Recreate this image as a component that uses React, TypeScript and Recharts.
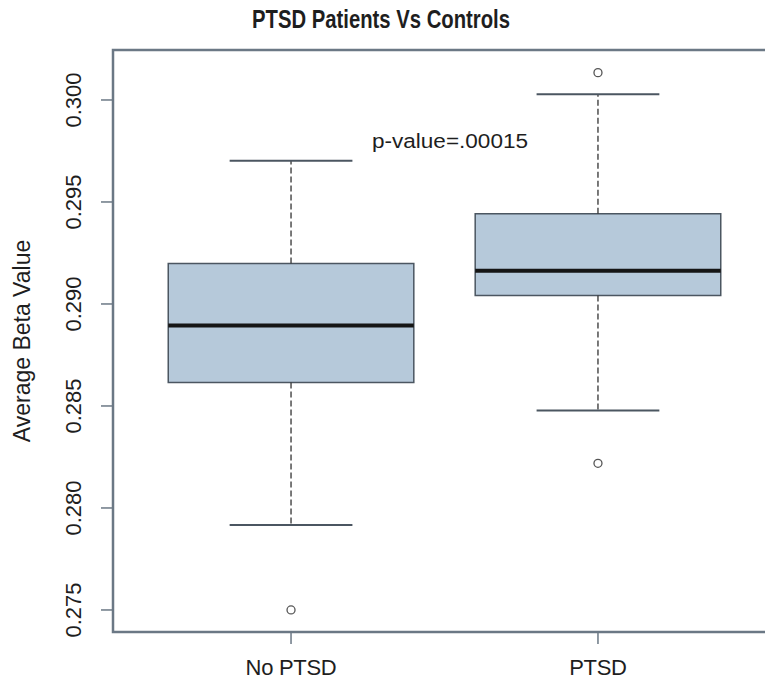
import React from 'react';
import {
  ComposedChart, Scatter, XAxis, YAxis, ReferenceArea, ReferenceLine,
} from 'recharts';

const CATEGORIES = ['No PTSD', 'PTSD'];
const POSITIONS = [1, 2];
const LOWER_WHISKER = [0.27916, 0.28478];
const Q1 = [0.28615, 0.29041];
const MEDIAN = [0.28894, 0.29163];
const Q3 = [0.29198, 0.29442];
const UPPER_WHISKER = [0.29702, 0.30028];
const OUTLIER_GROUP = [1, 2, 2];
const OUTLIER_VALUE = [0.2750, 0.30134, 0.28219];
const Y_TICKS = [0.275, 0.28, 0.285, 0.29, 0.295, 0.3];

const Y_DOMAIN: [number, number] = [0.27392, 0.30245];
const X_DOMAIN: [number, number] = [0.42, 2.58];
const BOX_HALF = 0.4;
const CAP_HALF = 0.2;

const FRAME = '#6b7885';
const BOX_FILL = '#b6c9da';
const BOX_STROKE = '#4b5661';
const TEXT = '#1e1e1e';
const FONT = '"Liberation Sans", Arial, sans-serif';

const outliers = OUTLIER_GROUP.map((g, i) => ({ x: g, y: OUTLIER_VALUE[i] }));

function YTick({ x, y, payload }: any) {
  const tx = x - 18;
  return (
    <text x={tx} y={y} transform={`rotate(-90 ${tx} ${y})`} textAnchor="middle"
      fontSize={22} fontFamily={FONT} fill={TEXT}>
      {Number(payload.value).toFixed(3)}
    </text>
  );
}

function XTick({ x, y, payload }: any) {
  const idx = POSITIONS.indexOf(payload.value);
  return (
    <text x={x} y={y + 29} textAnchor="middle" fontSize={22} fontFamily={FONT} fill={TEXT}
      letterSpacing={-0.3}>
      {CATEGORIES[idx]}
    </text>
  );
}

function AxisTitle({ viewBox }: any) {
  const cx = 30;
  const cy = viewBox.y + viewBox.height / 2;
  return (
    <text x={cx} y={cy} transform={`rotate(-90 ${cx} ${cy})`} textAnchor="middle"
      fontSize={23} fontFamily={FONT} fill={TEXT}>
      Average Beta Value
    </text>
  );
}

export default function App() {
  return (
    <div style={{ position: 'absolute', left: 0, top: 0, width: 765, height: 684, overflow: 'hidden', background: '#fff' }}>
      <ComposedChart width={780} height={684} margin={{ top: 50, right: 4, left: 0, bottom: 0 }}>
        <XAxis type="number" dataKey="x" domain={X_DOMAIN} ticks={POSITIONS} allowDataOverflow
          axisLine={false} tickLine={{ stroke: FRAME, strokeWidth: 1.5 }} tickSize={12}
          height={52} tick={<XTick />} />
        <YAxis type="number" dataKey="y" domain={Y_DOMAIN} ticks={Y_TICKS} allowDataOverflow
          axisLine={false} tickLine={{ stroke: FRAME, strokeWidth: 1.5 }} tickSize={12}
          width={113} tick={<YTick />} label={<AxisTitle />} />

        {POSITIONS.map((p, i) => (
          <ReferenceArea key={`box${i}`} x1={p - BOX_HALF} x2={p + BOX_HALF} y1={Q1[i]} y2={Q3[i]}
            fill={BOX_FILL} fillOpacity={1} stroke={BOX_STROKE} strokeWidth={1.5} ifOverflow="visible" />
        ))}
        {POSITIONS.map((p, i) => (
          <ReferenceLine key={`uw${i}`} segment={[{ x: p, y: Q3[i] }, { x: p, y: UPPER_WHISKER[i] }]}
            stroke="#333" strokeWidth={1.3} strokeDasharray="6 3" ifOverflow="visible" />
        ))}
        {POSITIONS.map((p, i) => (
          <ReferenceLine key={`lw${i}`} segment={[{ x: p, y: Q1[i] }, { x: p, y: LOWER_WHISKER[i] }]}
            stroke="#333" strokeWidth={1.3} strokeDasharray="6 3" ifOverflow="visible" />
        ))}
        {POSITIONS.map((p, i) => (
          <ReferenceLine key={`uc${i}`} segment={[{ x: p - CAP_HALF, y: UPPER_WHISKER[i] }, { x: p + CAP_HALF, y: UPPER_WHISKER[i] }]}
            stroke={BOX_STROKE} strokeWidth={2} ifOverflow="visible" />
        ))}
        {POSITIONS.map((p, i) => (
          <ReferenceLine key={`lc${i}`} segment={[{ x: p - CAP_HALF, y: LOWER_WHISKER[i] }, { x: p + CAP_HALF, y: LOWER_WHISKER[i] }]}
            stroke={BOX_STROKE} strokeWidth={2} ifOverflow="visible" />
        ))}
        {POSITIONS.map((p, i) => (
          <ReferenceLine key={`md${i}`} segment={[{ x: p - BOX_HALF, y: MEDIAN[i] }, { x: p + BOX_HALF, y: MEDIAN[i] }]}
            stroke="#151515" strokeWidth={4} ifOverflow="visible" />
        ))}

        <Scatter data={outliers} isAnimationActive={false}
          shape={(props: any) => <circle cx={props.cx} cy={props.cy} r={4} fill="none" stroke="#555" strokeWidth={1.3} />} />

        <ReferenceArea x1={X_DOMAIN[0]} x2={X_DOMAIN[1]} y1={Y_DOMAIN[0]} y2={Y_DOMAIN[1]}
          fill="none" stroke={FRAME} strokeWidth={2.5} ifOverflow="visible" />
      </ComposedChart>

      <svg width={765} height={684} style={{ position: 'absolute', left: 0, top: 0, pointerEvents: 'none' }}>
        <text x={381} y={28} textAnchor="middle" fontSize={25} fontWeight="bold" fontFamily={FONT} fill={TEXT}
          textLength={258} lengthAdjust="spacingAndGlyphs">
          PTSD Patients Vs Controls
        </text>
        <text x={372} y={148} fontSize={20.5} fontFamily={FONT} fill={TEXT}
          textLength={156} lengthAdjust="spacingAndGlyphs">p-value=.00015</text>
      </svg>
    </div>
  );
}
